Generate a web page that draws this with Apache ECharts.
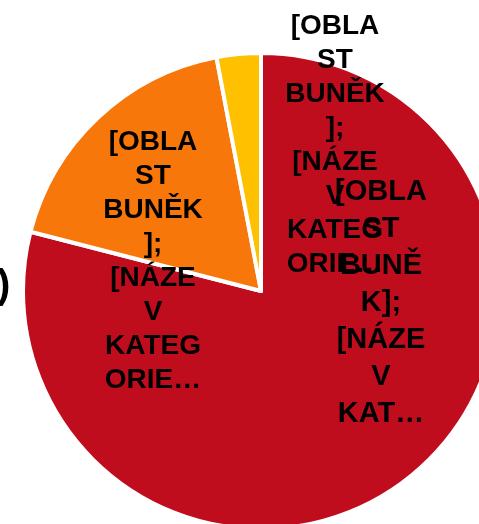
<!DOCTYPE html>
<html>
<head>
<meta charset="utf-8">
<script src="https://cdn.jsdelivr.net/npm/echarts@6/dist/echarts.min.js"></script>
<style>
  html, body { margin: 0; padding: 0; background: #fff; }
  #main { width: 479px; height: 524px; }
</style>
</head>
<body>
<div id="main"></div>
<script>
// data
var categories = ['Kategorie 1', 'Kategorie 2', 'Kategorie 3'];
var values = [79, 18, 3];
var labels = [
  '[OBLA\nST\nBUNĚ\nK];\n[NÁZE\nV\nKAT…',
  '[OBLA\nST\nBUNĚK\n];\n[NÁZE\nV\nKATEG\nORIE…',
  '[OBLA\nST\nBUNĚK\n];\n[NÁZE\nV\nKATEG\nORIE…'
];

var colors = ['#C00D1E', '#F8770B', '#FFC000'];
// where the labels sit (like in the excel file)
var labelPos = [[381, 303], [153, 261], [335, 145]];

var chart = echarts.init(document.getElementById('main'), null, { renderer: 'canvas' });

var pieData = values.map(function (v, i) {
  var item = { name: categories[i], value: v, label: { formatter: labels[i] } };
  if (i === 0) {
    item.label.fontSize = 29;
    item.label.lineHeight = 37;
  }
  return item;
});

var option = {
  animation: false,
  color: colors,
  title: {
    text: ')',
    left: -3,
    top: 267,
    padding: 0,
    textStyle: {
      fontFamily: 'Liberation Sans',
      fontSize: 40,
      fontWeight: 'bold',
      color: '#000'
    }
  },
  series: [{
    type: 'pie',
    center: [261, 291],
    radius: 238,
    startAngle: 90,
    clockwise: true,
    itemStyle: {
      borderColor: '#fff',
      borderWidth: 4
    },
    label: {
      show: true,
      position: 'inside',
      fontFamily: 'Liberation Sans',
      fontSize: 28,
      lineHeight: 34,
      fontWeight: 'bold',
      color: '#000',
      align: 'center'
    },
    labelLine: { show: false },
    labelLayout: function (params) {
      var p = labelPos[params.dataIndex];
      return { x: p[0], y: p[1], align: 'center', verticalAlign: 'middle' };
    },
    emphasis: { disabled: true },
    data: pieData
  }]
};

chart.setOption(option);
</script>
</body>
</html>
